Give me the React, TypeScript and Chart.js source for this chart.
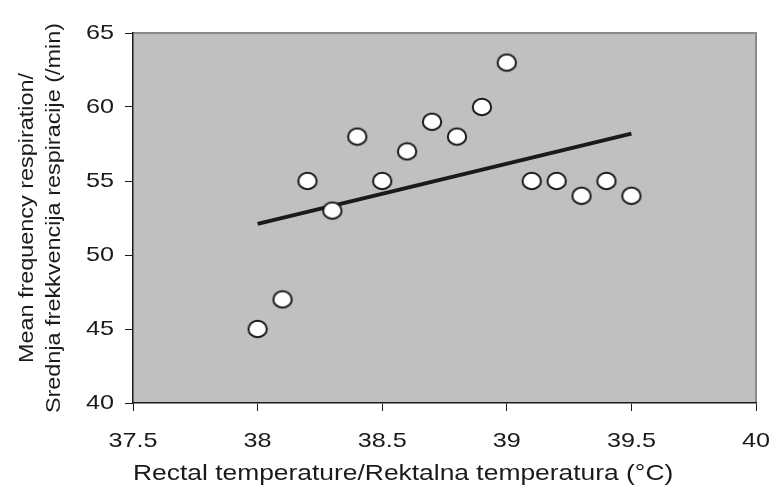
import React, { useEffect, useRef } from "react";
import { Chart, registerables } from "chart.js";

Chart.register(...registerables);

const temps = [38, 38.1, 38.2, 38.3, 38.4, 38.5, 38.6, 38.7, 38.8, 38.9, 39, 39.1, 39.2, 39.3, 39.4, 39.5];
const resp = [45, 47, 55, 53, 58, 55, 57, 59, 58, 60, 63, 55, 55, 54, 55, 54];
const trendX = [38, 39.5];
const trendY = [52.1, 58.2];
const xTitle = "Rectal temperature/Rektalna temperatura (°C)";
const yTitle = ["Mean frequency respiration/", "Srednja frekkvencija respiracije (/min)"];

const FONT = "'Liberation Sans', Arial, sans-serif";
const STRETCH = 1.2;

function makeMarker(): HTMLCanvasElement {
  const c = document.createElement("canvas");
  c.width = 22;
  c.height = 20;
  const g = c.getContext("2d")!;
  g.beginPath();
  g.ellipse(11, 10, 9.2, 8.2, 0, 0, Math.PI * 2);
  g.fillStyle = "#ffffff";
  g.fill();
  g.lineWidth = 2;
  g.strokeStyle = "#1a1a1a";
  g.stroke();
  return c;
}

const bgPlugin = {
  id: "bgPlugin",
  beforeDraw(chart: any) {
    const { ctx, chartArea: a } = chart;
    ctx.save();
    ctx.fillStyle = "#c0c0c0";
    ctx.fillRect(a.left, a.top, a.right - a.left, a.bottom - a.top);
    ctx.strokeStyle = "#8a8a8a";
    ctx.lineWidth = 2;
    ctx.beginPath();
    ctx.moveTo(a.left, a.top);
    ctx.lineTo(a.right, a.top);
    ctx.lineTo(a.right, a.bottom);
    ctx.stroke();
    ctx.restore();
  },
};

// The reference typeface is drawn horizontally widened; widen glyphs around their anchor.
const stretchPlugin = {
  id: "stretchPlugin",
  beforeDraw(chart: any) {
    const ctx = chart.ctx as any;
    if (ctx.__origFillText) return;
    const orig = ctx.fillText.bind(ctx);
    ctx.__origFillText = orig;
    ctx.fillText = (text: string, x: number, y: number, maxWidth?: number) => {
      ctx.save();
      ctx.translate(x, y);
      ctx.scale(STRETCH, 1);
      if (maxWidth === undefined || maxWidth === null) orig(text, 0, 0);
      else orig(text, 0, 0, maxWidth / STRETCH);
      ctx.restore();
    };
  },
};

export default function App() {
  const ref = useRef<HTMLCanvasElement>(null);
  useEffect(() => {
    document.body.style.margin = "0";
    const marker = makeMarker();
    const chart = new Chart(ref.current!, {
      type: "scatter",
      data: {
        datasets: [
          {
            type: "line",
            data: trendX.map((x, i) => ({ x, y: trendY[i] })),
            borderColor: "#1a1a1a",
            borderWidth: 4,
            pointRadius: 0,
            fill: false,
            order: 2,
          } as any,
          {
            data: temps.map((x, i) => ({ x, y: resp[i] })),
            pointStyle: marker as any,
            pointRadius: 10,
            order: 1,
          },
        ],
      },
      options: {
        animation: false,
        responsive: false,
        devicePixelRatio: 1,
        layout: { padding: { top: 33, right: 16, left: 4, bottom: 2 } },
        plugins: { legend: { display: false }, tooltip: { enabled: false } },
        scales: {
          x: {
            type: "linear",
            min: 37.5,
            max: 40,
            ticks: {
              stepSize: 0.5,
              color: "#1a1a1a",
              font: { family: FONT, size: 21 },
              padding: 18,
              callback: (v: any) => String(v),
            },
            grid: { drawOnChartArea: false, drawTicks: true, tickLength: 8, color: "#1a1a1a" },
            border: { color: "#1a1a1a", width: 1.5 },
            title: {
              display: true,
              text: xTitle,
              align: "start",
              color: "#1a1a1a",
              font: { family: FONT, size: 22 },
              padding: { top: 0, bottom: 2 },
            },
            afterFit(s: any) {
              s.height = 491 - 403 - 2;
              s.paddingLeft = 0;
              s.paddingRight = 0;
            },
          },
          y: {
            min: 40,
            max: 65,
            ticks: {
              stepSize: 5,
              color: "#1a1a1a",
              font: { family: FONT, size: 21 },
              padding: 11,
              callback: (v: any) => String(v),
            },
            grid: { drawOnChartArea: false, drawTicks: true, tickLength: 8, color: "#1a1a1a" },
            border: { color: "#1a1a1a", width: 1.5 },
            title: {
              display: true,
              text: yTitle,
              color: "#1a1a1a",
              font: { family: FONT, size: 19.5, lineHeight: 1.385 },
              padding: { top: 10.5, bottom: 0 },
            },
            afterFit(s: any) {
              s.width = 133 - 4;
              s.paddingTop = 0;
              s.paddingBottom = 0;
            },
          },
        },
      },
      plugins: [bgPlugin, stretchPlugin],
    });
    return () => chart.destroy();
  }, []);
  return <canvas ref={ref} width={772} height={491} style={{ display: "block" }} />;
}
